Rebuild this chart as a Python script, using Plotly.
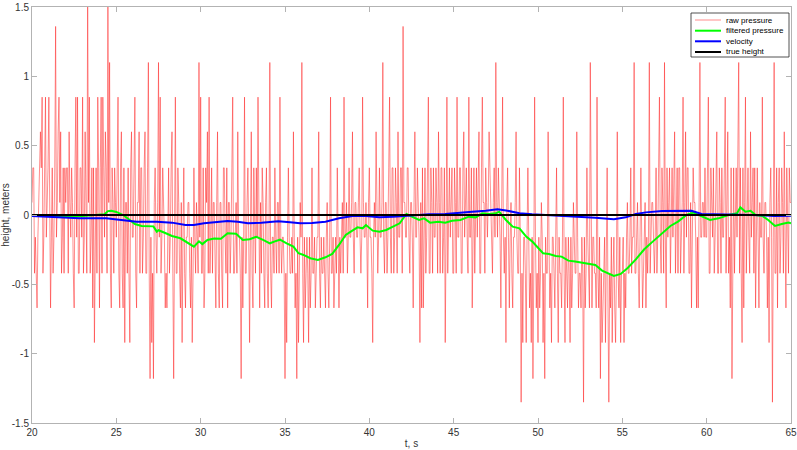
import numpy as np
import plotly.graph_objects as go

# ---------------- data ----------------
T_START = 20.0
SAMPLE_DT = 0.05   # 20 Hz barometer samples, t = 20.00 ... 65.00

# raw pressure samples (quantized barometer levels), one line per second
RAW_PRESSURE = [
    0.09, 0.34, 0.34, -0.42, -0.16, -0.42, -0.67, -0.16, 0.09, 0.34, 0.6, 0.34, 0.85, -0.42, -0.16, 0.34, 0.85, -0.16, 0.09, 0.34,      # 20
    0.85, -0.42, -0.67, -0.16, 0.34, -0.42, -0.16, 0.34, 1.36, -0.16, 0.09, 0.6, 0.85, 0.09, 0.6, -0.42, -0.16, 0.34, -0.42, 0.34,      # 21
    0.09, 0.34, 0.34, -0.42, 0.6, 0.09, -0.16, 0.34, 0.09, -0.42, -0.67, 0.34, 0.85, -0.16, 0.85, -0.42, -0.42, 0.34, 0.34, -0.16,      # 22
    0.85, -0.42, -0.16, 0.6, 0.09, -0.42, 1.61, 0.09, 0.85, -0.42, -0.16, 0.34, -0.67, 0.34, -0.92, 0.09, 0.34, -0.42, 0.85, 0.34,      # 23
    -0.67, 0.34, 0.85, -0.42, 0.85, 0.34, -0.16, 0.6, 0.34, -0.42, 1.61, 0.09, 1.1, -0.42, -0.67, 0.34, 0.09, -0.42, 0.34, 0.09,        # 24
    -0.16, 0.34, 0.85, -0.42, -0.67, 0.34, 0.6, -0.42, -0.67, 0.34, -0.92, 0.09, 0.09, -0.42, 0.34, -0.42, -0.92, 0.34, 0.6, -0.16,     # 25
    -0.16, 0.34, 0.85, -0.42, -0.67, 0.09, 0.09, 0.6, -0.42, 0.34, 0.34, -0.42, -0.16, 0.34, 0.6, -0.42, -0.42, 0.34, 1.1, -0.42,       # 26
    -1.18, -0.16, -0.92, -0.42, -1.18, 0.09, 0.34, -0.16, -0.42, 0.09, 1.1, -0.16, 0.85, -0.42, -0.16, 0.34, 0.09, -0.16, -0.67, -0.42, # 27
    -0.67, 0.09, 0.34, -0.42, -0.16, 0.34, 0.6, -0.42, -1.18, -0.16, 0.85, -0.42, -0.42, 0.34, 0.09, -0.42, -0.67, 0.09, -0.92, -0.16,  # 28
    0.34, -0.42, -0.67, -0.16, -0.16, 0.09, 0.09, -0.42, -0.67, -0.16, -0.92, -0.42, 0.34, -0.16, -0.42, 0.09, -0.16, -0.42, 1.1, -0.16, # 29
    0.85, -0.42, -0.42, 0.34, -0.67, -0.42, 0.34, 0.09, 0.6, -0.42, 0.85, -0.42, -0.16, 0.34, -0.42, 0.09, 0.09, -0.42, -0.67, 0.09,    # 30
    0.6, -0.42, -0.67, 0.09, 0.09, -0.42, -0.67, 0.34, 0.34, -0.16, -0.42, 0.34, -0.67, 0.09, 0.09, -0.42, -0.16, 0.34, 0.85, -0.42,     # 31
    -0.42, -0.16, 0.09, -0.42, 0.6, -0.16, -0.16, -0.42, -1.18, -0.16, -0.67, -0.16, 0.85, -0.42, -0.42, 0.09, 0.34, -0.16, -0.92, -0.16, # 32
    0.6, -0.42, -0.67, 0.34, -0.16, -0.42, 0.34, -0.16, 0.85, -0.42, -0.67, 0.09, -0.42, 0.34, 0.09, -0.42, -0.67, 0.09, 0.34, -0.42,    # 33
    -0.67, -0.16, 1.1, -0.42, -0.67, -0.16, -0.16, -0.42, 0.34, -0.16, -0.42, 0.09, 0.09, -0.42, 0.85, -0.16, -0.42, -0.16, -0.16, -0.42, # 34
    -1.18, -0.42, -0.92, -0.16, 0.34, -0.16, -0.42, -0.42, -0.16, -0.42, 0.6, -0.16, -0.67, -0.42, -1.18, -0.16, -0.92, -0.42, 0.09, -0.16, # 35
    1.1, -0.42, -0.92, -0.16, -0.67, -0.42, -0.16, -0.42, -0.92, -0.16, -0.67, -0.42, 0.34, -0.42, -0.42, -0.16, -0.67, -0.42, -0.16, -0.16, # 36
    0.6, -0.42, -0.67, -0.16, -0.42, -0.42, -0.16, -0.42, -0.67, -0.16, 0.09, -0.42, -0.67, -0.16, 0.85, -0.42, -0.42, -0.16, -0.67, -0.42, # 37
    -0.16, -0.42, 0.34, -0.16, -0.67, -0.16, -0.42, -0.16, 0.09, -0.42, 0.85, -0.16, -0.16, 0.09, -0.42, -0.16, 0.34, -0.16, -0.16, 0.09, # 38
    0.6, -0.16, -0.42, 0.09, 0.09, -0.16, -0.16, 0.09, 0.34, -0.16, -0.42, -0.16, 0.85, 0.09, -0.16, -0.16, 0.09, -0.16, -0.67, 0.09,    # 39
    0.34, -0.16, -0.16, -0.42, -0.92, -0.16, 0.09, -0.16, 0.6, 0.09, -0.42, -0.16, 0.34, -0.16, -0.16, 0.09, 1.1, -0.16, -0.42, 0.09,    # 40
    0.09, -0.42, -0.16, 0.34, 0.85, -0.16, -0.42, 0.34, 0.34, -0.42, -0.16, 0.34, 0.09, -0.42, 0.6, -0.16, -0.16, 0.34, 0.34, -0.42,     # 41
    1.36, 0.09, 0.09, -0.16, -0.16, 0.34, 0.34, -0.16, -0.42, 0.09, 0.09, -0.16, -0.67, 0.09, 0.6, -0.16, -0.16, 0.34, 0.09, -0.16,      # 42
    -0.92, 0.09, -0.67, 0.34, -0.67, -0.16, 0.34, -0.42, -0.16, 0.34, 0.85, -0.42, -0.42, 0.34, 0.09, -0.42, 0.34, -0.16, -0.16, 0.34,   # 43
    0.09, -0.42, 0.6, 0.09, -0.42, 0.34, 0.34, -0.42, -0.16, 0.34, -0.92, -0.16, 0.85, -0.42, 0.09, 0.34, -0.16, 0.09, 0.34, -0.42,      # 44
    -0.42, 0.34, 0.09, -0.42, 0.85, -0.16, -0.16, 0.34, 0.34, -0.42, -0.42, 0.34, 0.6, -0.16, 0.09, 0.34, -0.16, -0.42, 0.85, -0.16,     # 45
    -0.16, 0.34, -0.67, -0.16, 0.34, -0.42, 0.09, 0.34, -0.16, 0.34, 0.6, -0.42, -0.42, 0.34, 0.85, 0.09, 0.09, -0.42, 0.34, 0.09,       # 46
    -0.16, 0.09, 0.6, 0.34, 0.09, -0.16, -0.42, 0.09, 0.34, -0.16, 1.1, 0.09, -0.16, 0.34, 0.09, -0.16, -0.67, 0.09, 0.85, -0.16,        # 47
    -0.42, -0.16, -0.92, 0.09, 0.34, -0.16, -0.67, -0.16, 0.09, -0.42, -0.67, -0.16, -0.16, 0.09, 0.6, -0.16, -0.42, -0.42, 0.34, -0.16, # 48
    -1.35, -0.42, -0.92, -0.16, -0.16, -0.42, -0.92, -0.16, 0.34, -0.16, -0.67, -0.42, -0.92, -0.16, -1.18, -0.42, 0.85, -0.16, -0.67, -0.42, # 49
    -0.92, -0.16, -0.67, -0.42, 0.09, -0.16, -0.92, -0.42, -1.18, -0.16, -0.42, -0.42, 0.6, -0.16, -0.67, -0.42, -0.92, -0.16, -0.16, -0.42, # 50
    -0.67, -0.16, 0.34, -0.42, -0.92, -0.16, -0.42, -0.42, -0.67, -0.16, 0.85, -0.42, -0.92, -0.16, -0.42, -0.67, -0.16, -0.42, -0.92, -0.16, # 51
    -0.67, -0.42, 0.09, -0.16, -0.42, -0.42, 0.6, -0.16, -0.67, -0.42, -0.42, -0.67, -0.16, -0.42, -1.35, -0.16, -0.67, -0.42, 0.34, -0.16, # 52
    -0.42, -0.67, 1.1, -0.42, -0.67, -0.16, -0.16, -0.42, -0.42, -0.67, 0.85, -0.42, -0.67, -0.16, -1.18, -0.42, -0.92, -0.67, -0.42, -0.16, # 53
    -0.92, -0.42, 0.34, -0.67, -1.35, -0.42, -0.67, -0.16, -0.92, -0.42, -0.16, -0.67, -0.92, -0.42, 0.6, -0.42, -0.67, -0.16, -0.92, -0.42, # 54
    -0.42, -0.16, -0.92, -0.42, -0.67, -0.16, 0.09, -0.42, -0.42, -0.16, 0.34, -0.42, -0.16, -0.16, 1.1, -0.42, -0.42, -0.16, 0.09, -0.42, # 55
    -0.67, -0.16, 0.34, -0.16, -0.67, -0.42, -0.16, 0.09, -0.67, -0.16, -0.42, -0.16, 1.1, -0.42, -0.16, 0.09, 0.09, -0.16, -0.42, -0.16, # 56
    0.34, -0.42, -0.16, 0.34, 0.85, -0.16, -0.42, 0.34, 0.09, -0.42, 1.1, -0.16, -0.67, 0.34, -0.16, 0.09, 0.34, -0.42, 0.09, 0.34,      # 57
    -0.16, 0.34, 0.6, -0.42, 0.09, 0.34, -0.42, 0.34, 0.34, -0.42, -0.16, 0.09, 0.85, -0.42, 0.09, 0.6, -0.16, 0.34, 0.34, -0.42,        # 58
    -0.42, 0.09, -0.67, -0.16, 0.34, 0.09, 0.09, -0.16, -0.67, -0.16, -0.67, 0.09, 1.1, -0.16, -0.16, 0.09, 0.09, -0.16, 0.34, -0.16,    # 59
    -0.16, 0.34, 0.85, -0.42, -0.42, 0.34, 0.09, -0.16, 0.34, -0.42, -0.16, 0.34, 0.6, -0.42, -0.42, 0.34, 0.09, -0.42, 0.34, -0.16,     # 60
    -0.16, 0.34, 0.85, -0.42, 0.09, 0.6, -0.42, -0.16, -0.67, 0.34, -1.18, -0.16, 0.34, -0.42, 0.09, 0.34, -0.16, 0.34, 1.1, -0.42,      # 61
    0.34, -0.42, -0.92, 0.34, -0.67, 0.09, 0.85, -0.42, 0.09, 0.34, -0.16, -0.42, 0.6, -0.16, 0.09, 0.34, -0.42, 0.34, -0.67, 0.09,      # 62
    0.34, -0.16, -0.67, 0.09, -0.16, -0.16, 0.85, -0.16, -0.42, 0.09, 0.09, -0.16, -0.67, -0.16, -0.92, 0.09, 0.34, -0.16, -1.35, -0.16, # 63
    1.1, -0.42, -0.42, 0.34, -0.67, 0.09, 0.34, -0.42, -0.16, 0.34, 0.09, -0.42, 0.6, -0.16, -0.67, 0.34, -0.16, -0.42, 0.34, 0.09,      # 64
    0.09,                                                                                                                                # 65
]

# filtered pressure (green)
FILTERED_T = [20.0, 21.0, 22.0, 23.0, 23.5, 24.0, 24.3, 24.5, 24.7, 25.0, 25.4, 25.8,
              26.1, 26.5, 27.2, 27.4, 27.5, 27.9, 28.3, 28.8, 29.2, 29.6, 29.9, 30.1,
              30.4, 30.8, 31.2, 31.6, 32.1, 32.5, 32.9, 33.3, 33.7, 34.1, 34.4, 34.7,
              35.1, 35.5, 35.8, 36.1, 36.5, 36.95, 37.4, 37.8, 38.2, 38.6, 38.9, 39.3,
              39.6, 39.8, 40.2, 40.6, 41.0, 41.5, 41.8, 42.2, 42.6, 42.95, 43.25, 43.6,
              44.1, 44.5, 44.9, 45.4, 45.9, 46.3, 46.7, 47.1, 47.5, 47.7, 48.1, 48.5,
              48.9, 49.3, 49.65, 50.05, 50.3, 50.65, 51.05, 51.4, 51.8, 52.2, 52.6, 53.0,
              53.4, 53.8, 54.2, 54.5, 54.9, 55.3, 55.8, 56.3, 56.8, 57.35, 57.85, 58.3,
              58.8, 59.2, 59.7, 60.2, 60.7, 61.3, 61.8, 62.0, 62.3, 62.6, 62.9, 63.3,
              63.65, 64.05, 64.45, 64.85, 65.0]
FILTERED_V = [-0.005, -0.008, -0.01, -0.008, -0.005, 0.0, 0.005, 0.028, 0.031, 0.022, 0.0, -0.036,
              -0.065, -0.079, -0.082, -0.12, -0.11, -0.13, -0.151, -0.168, -0.2, -0.228, -0.19, -0.21,
              -0.18, -0.17, -0.172, -0.132, -0.135, -0.18, -0.175, -0.157, -0.18, -0.204, -0.19, -0.178,
              -0.204, -0.228, -0.276, -0.288, -0.312, -0.324, -0.305, -0.281, -0.216, -0.144, -0.12, -0.089,
              -0.096, -0.072, -0.113, -0.12, -0.108, -0.079, -0.06, 0.007, -0.017, -0.036, -0.024, -0.055,
              -0.048, -0.055, -0.041, -0.036, -0.012, -0.017, 0.012, 0.007, 0.012, 0.024, -0.036, -0.084,
              -0.096, -0.156, -0.19, -0.24, -0.276, -0.281, -0.295, -0.3, -0.329, -0.336, -0.344, -0.353,
              -0.36, -0.401, -0.425, -0.44, -0.425, -0.384, -0.32, -0.247, -0.192, -0.132, -0.079, -0.048,
              0.0, 0.017, -0.012, -0.036, -0.024, 0.0, 0.012, 0.055, 0.024, 0.031, 0.0, -0.007,
              -0.036, -0.079, -0.065, -0.055, -0.06]

# velocity (blue)
VELOCITY_T = [20.0, 20.8, 22.8, 24.4, 26.2, 27.4, 28.3, 29.1, 29.6, 30.2, 30.8, 31.6,
              32.2, 32.8, 33.6, 34.6, 35.3, 35.9, 36.6, 37.4, 38.2, 39.0, 39.8, 40.6,
              41.4, 42.2, 42.95, 43.55, 44.5, 45.3, 46.1, 46.9, 47.6, 48.1, 48.9, 49.65,
              50.5, 51.4, 52.4, 53.4, 54.5, 55.2, 55.8, 56.4, 57.35, 58.3, 59.1, 59.7,
              60.5, 61.7, 62.5, 63.3, 64.0, 65.0]
VELOCITY_V = [-0.007, -0.012, -0.024, -0.024, -0.048, -0.048, -0.055, -0.072, -0.072, -0.06, -0.055, -0.043,
              -0.048, -0.06, -0.055, -0.045, -0.053, -0.06, -0.058, -0.048, -0.024, -0.007, -0.007, -0.017,
              -0.012, -0.005, 0.0, 0.005, 0.007, 0.017, 0.024, 0.031, 0.041, 0.033, 0.012, 0.005,
              0.0, -0.007, -0.012, -0.019, -0.031, -0.017, 0.007, 0.019, 0.029, 0.031, 0.031, 0.007,
              0.005, 0.005, 0.0, -0.002, -0.007, -0.005]

# true height (black)
TRUE_T = [20.0, 65.0]
TRUE_V = [0.0, 0.0]

SERIES_NAMES = ["raw pressure", "filtered pressure", "velocity", "true height"]
SERIES_COLORS = ["rgba(255,30,30,0.5)", "#00ff00", "#0000ff", "#000000"]
SERIES_WIDTHS = [1, 2, 2, 2]

X_TICKS = [20, 25, 30, 35, 40, 45, 50, 55, 60, 65]
Y_TICKS = [-1.5, -1.0, -0.5, 0.0, 0.5, 1.0, 1.5]
Y_TICK_TEXT = ["-1.5", "-1", "-0.5", "0", "0.5", "1", "1.5"]

raw_t = np.round(T_START + SAMPLE_DT * np.arange(len(RAW_PRESSURE)), 3)

# ---------------- figure ----------------
W, H = 797, 450
ML, MR, MT, MB = 32, 6, 7, 27
PW, PH = W - ML - MR, H - MT - MB

fig = go.Figure()
xs = [raw_t, FILTERED_T, VELOCITY_T, TRUE_T]
ys = [RAW_PRESSURE, FILTERED_V, VELOCITY_V, TRUE_V]
for x, y, name, col, wd in zip(xs, ys, SERIES_NAMES, SERIES_COLORS, SERIES_WIDTHS):
    fig.add_trace(go.Scatter(x=x, y=y, mode="lines", name=name, showlegend=False,
                             line=dict(color=col, width=wd)))

FONT = "Liberation Sans, Arial, Helvetica, sans-serif"
axis_common = dict(showline=True, linecolor="#b3b3b3", linewidth=1, mirror="ticks",
                   ticks="inside", ticklen=5, tickcolor="#b3b3b3", showgrid=False,
                   zeroline=False, tickfont=dict(family=FONT, size=10, color="#333333"),
                   automargin=False)

# MATLAB-style legend box (compact) drawn in paper coordinates
def px2paper_x(px):
    return (px - ML) / PW

def px2paper_y(py):
    return 1 - (py - MT) / PH

LEG_X0, LEG_X1, LEG_Y0, LEG_Y1 = 691, 789, 13, 57
LINE_X0, LINE_X1, TEXT_X = 695, 721, 724
ITEM_Y = [20.0, 30.7, 41.3, 52.0]

shapes = [dict(type="rect", xref="paper", yref="paper",
               x0=px2paper_x(LEG_X0), x1=px2paper_x(LEG_X1),
               y0=px2paper_y(LEG_Y1), y1=px2paper_y(LEG_Y0),
               line=dict(color="#262626", width=0.8), fillcolor="white", layer="above")]
annotations = []
for name, col, wd, iy in zip(SERIES_NAMES, SERIES_COLORS, SERIES_WIDTHS, ITEM_Y):
    shapes.append(dict(type="line", xref="paper", yref="paper",
                       x0=px2paper_x(LINE_X0), x1=px2paper_x(LINE_X1),
                       y0=px2paper_y(iy), y1=px2paper_y(iy),
                       line=dict(color=col, width=wd), layer="above"))
    annotations.append(dict(xref="paper", yref="paper", x=px2paper_x(TEXT_X), y=px2paper_y(iy),
                            text=name, showarrow=False, xanchor="left", yanchor="middle",
                            font=dict(family=FONT, size=8, color="#000000")))

fig.update_layout(
    width=W, height=H,
    margin=dict(l=ML, r=MR, t=MT, b=MB),
    paper_bgcolor="white", plot_bgcolor="white",
    xaxis=dict(range=[20, 65], tickvals=X_TICKS,
               title=dict(text="t, s", font=dict(family=FONT, size=10, color="#333333"), standoff=2),
               **axis_common),
    yaxis=dict(range=[-1.5, 1.5], tickvals=Y_TICKS, ticktext=Y_TICK_TEXT,
               title=dict(text="height, meters", font=dict(family=FONT, size=10, color="#333333"), standoff=2),
               **axis_common),
    shapes=shapes,
    annotations=annotations,
    showlegend=False,
)

fig.write_html("out.html")
